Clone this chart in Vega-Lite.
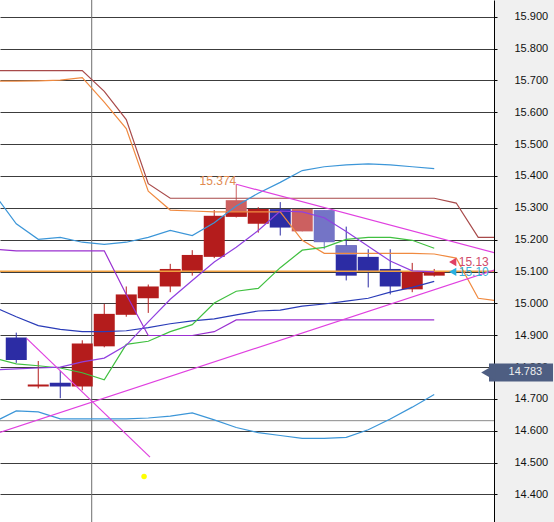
{
  "$schema": "https://vega.github.io/schema/vega-lite/v6.json",
  "width": 494,
  "height": 522,
  "autosize": {"type": "none"},
  "padding": {"left": 0, "top": 0, "right": 60, "bottom": 0},
  "background": "#f0f0f0",
  "view": {"fill": "white", "stroke": null},
  "config": {"font": "Liberation Sans"},
  "resolve": {"scale": {"color": "independent"}},
  "datasets": {
    "candles": [
      {"i":1,"o":14.893,"h":14.908,"l":14.813,"c":14.822,"k":"down"},
      {"i":2,"o":14.739,"h":14.819,"l":14.733,"c":14.745,"k":"up"},
      {"i":3,"o":14.751,"h":14.788,"l":14.702,"c":14.739,"k":"down"},
      {"i":4,"o":14.739,"h":14.884,"l":14.727,"c":14.874,"k":"up"},
      {"i":5,"o":14.865,"h":14.998,"l":14.862,"c":14.967,"k":"up"},
      {"i":6,"o":14.964,"h":15.053,"l":14.958,"c":15.028,"k":"up"},
      {"i":7,"o":15.016,"h":15.059,"l":14.970,"c":15.053,"k":"up"},
      {"i":8,"o":15.053,"h":15.124,"l":15.035,"c":15.108,"k":"up"},
      {"i":9,"o":15.102,"h":15.167,"l":15.087,"c":15.152,"k":"up"},
      {"i":10,"o":15.146,"h":15.293,"l":15.142,"c":15.275,"k":"up"},
      {"i":11,"o":15.272,"h":15.374,"l":15.269,"c":15.324,"k":"up_l"},
      {"i":12,"o":15.250,"h":15.302,"l":15.222,"c":15.296,"k":"up"},
      {"i":13,"o":15.296,"h":15.318,"l":15.213,"c":15.238,"k":"down"},
      {"i":14,"o":15.226,"h":15.296,"l":15.226,"c":15.296,"k":"up_l"},
      {"i":15,"o":15.293,"h":15.293,"l":15.170,"c":15.192,"k":"down_l"},
      {"i":16,"o":15.182,"h":15.241,"l":15.072,"c":15.087,"k":"down"},
      {"i":17,"o":15.146,"h":15.170,"l":15.050,"c":15.102,"k":"down"},
      {"i":18,"o":15.108,"h":15.170,"l":15.028,"c":15.053,"k":"down"},
      {"i":19,"o":15.044,"h":15.127,"l":15.035,"c":15.099,"k":"up"},
      {"i":20,"o":15.087,"h":15.108,"l":15.084,"c":15.099,"k":"up"}
    ],
    "parts": [
      {"i":11,"o":15.272,"c":15.287,"k":"up"},
      {"i":16,"o":15.182,"c":15.152,"k":"down_l"}
    ],
    "lines": [
      {"s":"brown","i":0,"v":15.731},{"s":"brown","i":1,"v":15.731},{"s":"brown","i":2,"v":15.731},{"s":"brown","i":3,"v":15.731},{"s":"brown","i":4,"v":15.731},{"s":"brown","i":5,"v":15.666},{"s":"brown","i":6,"v":15.577},{"s":"brown","i":7,"v":15.376},{"s":"brown","i":8,"v":15.330},{"s":"brown","i":9,"v":15.330},{"s":"brown","i":10,"v":15.330},{"s":"brown","i":11,"v":15.330},{"s":"brown","i":12,"v":15.330},{"s":"brown","i":13,"v":15.330},{"s":"brown","i":14,"v":15.330},{"s":"brown","i":15,"v":15.330},{"s":"brown","i":16,"v":15.330},{"s":"brown","i":17,"v":15.330},{"s":"brown","i":18,"v":15.330},{"s":"brown","i":19,"v":15.330},{"s":"brown","i":20,"v":15.330},{"s":"brown","i":21,"v":15.315},{"s":"brown","i":22,"v":15.207},{"s":"brown","i":23,"v":15.207},
      {"s":"orange","i":0,"v":15.698},{"s":"orange","i":1,"v":15.698},{"s":"orange","i":2,"v":15.699},{"s":"orange","i":3,"v":15.701},{"s":"orange","i":4,"v":15.709},{"s":"orange","i":5,"v":15.632},{"s":"orange","i":6,"v":15.549},{"s":"orange","i":7,"v":15.352},{"s":"orange","i":8,"v":15.293},{"s":"orange","i":9,"v":15.290},{"s":"orange","i":10,"v":15.287},{"s":"orange","i":11,"v":15.287},{"s":"orange","i":12,"v":15.287},{"s":"orange","i":13,"v":15.287},{"s":"orange","i":14,"v":15.198},{"s":"orange","i":15,"v":15.157},{"s":"orange","i":16,"v":15.157},{"s":"orange","i":17,"v":15.157},{"s":"orange","i":18,"v":15.157},{"s":"orange","i":19,"v":15.157},{"s":"orange","i":20,"v":15.155},{"s":"orange","i":21,"v":15.142},{"s":"orange","i":22,"v":15.016},{"s":"orange","i":23,"v":15.007},
      {"s":"bbU","i":0,"v":15.343},{"s":"bbU","i":1,"v":15.250},{"s":"bbU","i":2,"v":15.201},{"s":"bbU","i":3,"v":15.207},{"s":"bbU","i":4,"v":15.192},{"s":"bbU","i":5,"v":15.185},{"s":"bbU","i":6,"v":15.192},{"s":"bbU","i":7,"v":15.207},{"s":"bbU","i":8,"v":15.229},{"s":"bbU","i":9,"v":15.213},{"s":"bbU","i":10,"v":15.253},{"s":"bbU","i":11,"v":15.306},{"s":"bbU","i":12,"v":15.346},{"s":"bbU","i":13,"v":15.380},{"s":"bbU","i":14,"v":15.417},{"s":"bbU","i":15,"v":15.429},{"s":"bbU","i":16,"v":15.435},{"s":"bbU","i":17,"v":15.438},{"s":"bbU","i":18,"v":15.435},{"s":"bbU","i":19,"v":15.429},{"s":"bbU","i":20,"v":15.423},
      {"s":"bbL","i":0,"v":14.628},{"s":"bbL","i":1,"v":14.662},{"s":"bbL","i":2,"v":14.659},{"s":"bbL","i":3,"v":14.637},{"s":"bbL","i":4,"v":14.637},{"s":"bbL","i":5,"v":14.637},{"s":"bbL","i":6,"v":14.637},{"s":"bbL","i":7,"v":14.640},{"s":"bbL","i":8,"v":14.646},{"s":"bbL","i":9,"v":14.656},{"s":"bbL","i":10,"v":14.634},{"s":"bbL","i":11,"v":14.610},{"s":"bbL","i":12,"v":14.594},{"s":"bbL","i":13,"v":14.585},{"s":"bbL","i":14,"v":14.576},{"s":"bbL","i":15,"v":14.576},{"s":"bbL","i":16,"v":14.579},{"s":"bbL","i":17,"v":14.603},{"s":"bbL","i":18,"v":14.637},{"s":"bbL","i":19,"v":14.674},{"s":"bbL","i":20,"v":14.714},
      {"s":"navy","i":0,"v":14.988},{"s":"navy","i":1,"v":14.958},{"s":"navy","i":2,"v":14.930},{"s":"navy","i":3,"v":14.918},{"s":"navy","i":4,"v":14.911},{"s":"navy","i":5,"v":14.911},{"s":"navy","i":6,"v":14.914},{"s":"navy","i":7,"v":14.924},{"s":"navy","i":8,"v":14.936},{"s":"navy","i":9,"v":14.945},{"s":"navy","i":10,"v":14.951},{"s":"navy","i":11,"v":14.964},{"s":"navy","i":12,"v":14.976},{"s":"navy","i":13,"v":14.979},{"s":"navy","i":14,"v":14.991},{"s":"navy","i":15,"v":14.998},{"s":"navy","i":16,"v":15.007},{"s":"navy","i":17,"v":15.016},{"s":"navy","i":18,"v":15.035},{"s":"navy","i":19,"v":15.050},{"s":"navy","i":20,"v":15.069},
      {"s":"green","i":0,"v":14.828},{"s":"green","i":1,"v":14.810},{"s":"green","i":2,"v":14.804},{"s":"green","i":3,"v":14.797},{"s":"green","i":4,"v":14.782},{"s":"green","i":5,"v":14.760},{"s":"green","i":6,"v":14.871},{"s":"green","i":7,"v":14.881},{"s":"green","i":8,"v":14.911},{"s":"green","i":9,"v":14.933},{"s":"green","i":10,"v":15.001},{"s":"green","i":11,"v":15.038},{"s":"green","i":12,"v":15.047},{"s":"green","i":13,"v":15.112},{"s":"green","i":14,"v":15.167},{"s":"green","i":15,"v":15.176},{"s":"green","i":16,"v":15.201},{"s":"green","i":17,"v":15.207},{"s":"green","i":18,"v":15.207},{"s":"green","i":19,"v":15.198},{"s":"green","i":20,"v":15.173},
      {"s":"pur1","i":0,"v":15.170},{"s":"pur1","i":1,"v":15.165},{"s":"pur1","i":2,"v":15.165},{"s":"pur1","i":3,"v":15.165},{"s":"pur1","i":4,"v":15.165},{"s":"pur1","i":5,"v":15.165},{"s":"pur1","i":6,"v":15.028},{"s":"pur1","i":7,"v":14.899},{"s":"pur1","i":8,"v":14.899},{"s":"pur1","i":9,"v":14.899},{"s":"pur1","i":10,"v":14.911},{"s":"pur1","i":11,"v":14.948},{"s":"pur1","i":12,"v":14.948},{"s":"pur1","i":13,"v":14.948},{"s":"pur1","i":14,"v":14.948},{"s":"pur1","i":15,"v":14.948},{"s":"pur1","i":16,"v":14.948},{"s":"pur1","i":17,"v":14.948},{"s":"pur1","i":18,"v":14.948},{"s":"pur1","i":19,"v":14.948},{"s":"pur1","i":20,"v":14.948},
      {"s":"pur2","i":0,"v":14.791},{"s":"pur2","i":1,"v":14.794},{"s":"pur2","i":2,"v":14.797},{"s":"pur2","i":3,"v":14.800},{"s":"pur2","i":4,"v":14.816},{"s":"pur2","i":5,"v":14.828},{"s":"pur2","i":6,"v":14.868},{"s":"pur2","i":7,"v":14.942},{"s":"pur2","i":8,"v":15.013},{"s":"pur2","i":9,"v":15.072},{"s":"pur2","i":10,"v":15.130},{"s":"pur2","i":11,"v":15.176},{"s":"pur2","i":12,"v":15.229},{"s":"pur2","i":13,"v":15.290},{"s":"pur2","i":14,"v":15.287},{"s":"pur2","i":15,"v":15.269},{"s":"pur2","i":16,"v":15.226},{"s":"pur2","i":17,"v":15.179},{"s":"pur2","i":18,"v":15.133},{"s":"pur2","i":19,"v":15.102},{"s":"pur2","i":20,"v":15.099}
    ],
    "trends": [
      {"s":"t1","i":11,"v":15.374},{"s":"t1","i":23,"v":15.154},
      {"s":"t2","i":0,"v":14.589},{"s":"t2","i":23,"v":15.111},
      {"s":"t3","i":1.47,"v":14.890},{"s":"t3","i":7.08,"v":14.517}
    ],
    "dot": [{"i":6.81,"v":14.456}],
    "hi": [{"i":11,"v":15.374,"t":"15.374"}],
    "markers": [
      {"i":20.84,"v":15.130,"k":"a","t":"15.13"},
      {"i":20.84,"v":15.099,"k":"b","t":"15.10"}
    ],
    "price": [{"i":22.45,"x0":22.49,"x1":25.4,"xt":23.38,"p":14.783,"t":"14.783"}]
  },
  "layer": [
    {
      "data": {"values": [{"g":14.6315}]},
      "mark": {"type": "rule", "color": "#8a8a8a", "strokeWidth": 1},
      "encoding": {
        "y": {"field": "g", "type": "quantitative", "scale": {"domain": [14.329, 15.937], "nice": false, "zero": false},
          "axis": {"orient": "right", "values": [14.4,14.5,14.6,14.7,14.8,14.9,15.0,15.1,15.2,15.3,15.4,15.5,15.6,15.7,15.8,15.9], "format": ".3f", "grid": true, "gridColor": "#3c3c3c", "gridWidth": 1, "gridOpacity": 1, "domain": true, "domainColor": "#000000", "domainWidth": 1, "ticks": true, "tickColor": "#000000", "tickSize": 3, "labelPadding": 17, "labelFont": "Liberation Sans", "labelFontSize": 11, "labelColor": "#111111", "labelFlush": false, "labelOverlap": false, "title": null}}
      }
    },
    {
      "data": {"values": [{"i":4.43}]},
      "mark": {"type": "rule", "color": "#6e6e6e", "strokeWidth": 1},
      "encoding": {
        "x": {"field": "i", "type": "quantitative", "scale": {"domain": [0.488, 22.49], "nice": false, "zero": false}, "axis": null}
      }
    },
    {
      "data": {"name": "candles"},
      "mark": {"type": "rule", "strokeWidth": 1, "clip": true},
      "encoding": {
        "x": {"field": "i", "type": "quantitative", "scale": {"domain": [0.488, 22.49], "nice": false, "zero": false}, "axis": null},
        "y": {"field": "l", "type": "quantitative", "scale": {"domain": [14.329, 15.937], "nice": false, "zero": false},
          "axis": {"orient": "right", "values": [14.4,14.5,14.6,14.7,14.8,14.9,15.0,15.1,15.2,15.3,15.4,15.5,15.6,15.7,15.8,15.9], "format": ".3f", "grid": true, "gridColor": "#3c3c3c", "gridWidth": 1, "gridOpacity": 1, "domain": true, "domainColor": "#000000", "domainWidth": 1, "ticks": true, "tickColor": "#000000", "tickSize": 3, "labelPadding": 17, "labelFont": "Liberation Sans", "labelFontSize": 11, "labelColor": "#111111", "labelFlush": false, "labelOverlap": false, "title": null}},
        "y2": {"field": "h"},
        "color": {"field": "k", "type": "nominal", "scale": {"domain": ["up","down","up_l","down_l"], "range": ["#b41c1c","#2c2ca4","#cc6060","#7474c6"]}, "legend": null}
      }
    },
    {
      "data": {"name": "candles"},
      "mark": {"type": "bar", "size": 21, "clip": true},
      "encoding": {
        "x": {"field": "i", "type": "quantitative", "scale": {"domain": [0.488, 22.49], "nice": false, "zero": false}, "axis": null},
        "y": {"field": "o", "type": "quantitative", "scale": {"domain": [14.329, 15.937], "nice": false, "zero": false},
          "axis": {"orient": "right", "values": [14.4,14.5,14.6,14.7,14.8,14.9,15.0,15.1,15.2,15.3,15.4,15.5,15.6,15.7,15.8,15.9], "format": ".3f", "grid": true, "gridColor": "#3c3c3c", "gridWidth": 1, "gridOpacity": 1, "domain": true, "domainColor": "#000000", "domainWidth": 1, "ticks": true, "tickColor": "#000000", "tickSize": 3, "labelPadding": 17, "labelFont": "Liberation Sans", "labelFontSize": 11, "labelColor": "#111111", "labelFlush": false, "labelOverlap": false, "title": null}},
        "y2": {"field": "c"},
        "color": {"field": "k", "type": "nominal", "scale": {"domain": ["up","down","up_l","down_l"], "range": ["#b41c1c","#2c2ca4","#cc6060","#7474c6"]}, "legend": null}
      }
    },
    {
      "data": {"name": "parts"},
      "mark": {"type": "bar", "size": 21, "clip": true},
      "encoding": {
        "x": {"field": "i", "type": "quantitative", "scale": {"domain": [0.488, 22.49], "nice": false, "zero": false}, "axis": null},
        "y": {"field": "o", "type": "quantitative", "scale": {"domain": [14.329, 15.937], "nice": false, "zero": false},
          "axis": {"orient": "right", "values": [14.4,14.5,14.6,14.7,14.8,14.9,15.0,15.1,15.2,15.3,15.4,15.5,15.6,15.7,15.8,15.9], "format": ".3f", "grid": true, "gridColor": "#3c3c3c", "gridWidth": 1, "gridOpacity": 1, "domain": true, "domainColor": "#000000", "domainWidth": 1, "ticks": true, "tickColor": "#000000", "tickSize": 3, "labelPadding": 17, "labelFont": "Liberation Sans", "labelFontSize": 11, "labelColor": "#111111", "labelFlush": false, "labelOverlap": false, "title": null}},
        "y2": {"field": "c"},
        "color": {"field": "k", "type": "nominal", "scale": {"domain": ["up","down","up_l","down_l"], "range": ["#b41c1c","#2c2ca4","#cc6060","#7474c6"]}, "legend": null}
      }
    },
    {
      "data": {"values": [{"g":15.101}]},
      "mark": {"type": "rule", "color": "#f0a040", "strokeWidth": 1.5},
      "encoding": {
        "y": {"field": "g", "type": "quantitative", "scale": {"domain": [14.329, 15.937], "nice": false, "zero": false},
          "axis": {"orient": "right", "values": [14.4,14.5,14.6,14.7,14.8,14.9,15.0,15.1,15.2,15.3,15.4,15.5,15.6,15.7,15.8,15.9], "format": ".3f", "grid": true, "gridColor": "#3c3c3c", "gridWidth": 1, "gridOpacity": 1, "domain": true, "domainColor": "#000000", "domainWidth": 1, "ticks": true, "tickColor": "#000000", "tickSize": 3, "labelPadding": 17, "labelFont": "Liberation Sans", "labelFontSize": 11, "labelColor": "#111111", "labelFlush": false, "labelOverlap": false, "title": null}}
      }
    },
    {
      "data": {"name": "lines"},
      "mark": {"type": "line", "strokeWidth": 1.2, "clip": true},
      "encoding": {
        "x": {"field": "i", "type": "quantitative", "scale": {"domain": [0.488, 22.49], "nice": false, "zero": false}, "axis": null},
        "y": {"field": "v", "type": "quantitative", "scale": {"domain": [14.329, 15.937], "nice": false, "zero": false},
          "axis": {"orient": "right", "values": [14.4,14.5,14.6,14.7,14.8,14.9,15.0,15.1,15.2,15.3,15.4,15.5,15.6,15.7,15.8,15.9], "format": ".3f", "grid": true, "gridColor": "#3c3c3c", "gridWidth": 1, "gridOpacity": 1, "domain": true, "domainColor": "#000000", "domainWidth": 1, "ticks": true, "tickColor": "#000000", "tickSize": 3, "labelPadding": 17, "labelFont": "Liberation Sans", "labelFontSize": 11, "labelColor": "#111111", "labelFlush": false, "labelOverlap": false, "title": null}},
        "color": {"field": "s", "type": "nominal", "scale": {"domain": ["brown","orange","bbU","bbL","navy","green","pur1","pur2"], "range": ["#a84a4a","#f08a40","#3c96d8","#3c96d8","#2a3cb8","#40c040","#9a30d0","#9040e0"]}, "legend": null}
      }
    },
    {
      "data": {"name": "trends"},
      "mark": {"type": "line", "strokeWidth": 1.2, "clip": true, "color": "#e040e0"},
      "encoding": {
        "x": {"field": "i", "type": "quantitative", "scale": {"domain": [0.488, 22.49], "nice": false, "zero": false}, "axis": null},
        "y": {"field": "v", "type": "quantitative", "scale": {"domain": [14.329, 15.937], "nice": false, "zero": false},
          "axis": {"orient": "right", "values": [14.4,14.5,14.6,14.7,14.8,14.9,15.0,15.1,15.2,15.3,15.4,15.5,15.6,15.7,15.8,15.9], "format": ".3f", "grid": true, "gridColor": "#3c3c3c", "gridWidth": 1, "gridOpacity": 1, "domain": true, "domainColor": "#000000", "domainWidth": 1, "ticks": true, "tickColor": "#000000", "tickSize": 3, "labelPadding": 17, "labelFont": "Liberation Sans", "labelFontSize": 11, "labelColor": "#111111", "labelFlush": false, "labelOverlap": false, "title": null}},
        "detail": {"field": "s", "type": "nominal"}
      }
    },
    {
      "data": {"name": "dot"},
      "mark": {"type": "point", "filled": true, "color": "#ffff00", "size": 30, "opacity": 1},
      "encoding": {
        "x": {"field": "i", "type": "quantitative", "scale": {"domain": [0.488, 22.49], "nice": false, "zero": false}, "axis": null},
        "y": {"field": "v", "type": "quantitative", "scale": {"domain": [14.329, 15.937], "nice": false, "zero": false},
          "axis": {"orient": "right", "values": [14.4,14.5,14.6,14.7,14.8,14.9,15.0,15.1,15.2,15.3,15.4,15.5,15.6,15.7,15.8,15.9], "format": ".3f", "grid": true, "gridColor": "#3c3c3c", "gridWidth": 1, "gridOpacity": 1, "domain": true, "domainColor": "#000000", "domainWidth": 1, "ticks": true, "tickColor": "#000000", "tickSize": 3, "labelPadding": 17, "labelFont": "Liberation Sans", "labelFontSize": 11, "labelColor": "#111111", "labelFlush": false, "labelOverlap": false, "title": null}}
      }
    },
    {
      "data": {"name": "hi"},
      "mark": {"type": "text", "align": "right", "baseline": "alphabetic", "dy": 1, "fontSize": 12, "color": "#e08a50", "font": "Liberation Sans"},
      "encoding": {
        "x": {"field": "i", "type": "quantitative", "scale": {"domain": [0.488, 22.49], "nice": false, "zero": false}, "axis": null},
        "y": {"field": "v", "type": "quantitative", "scale": {"domain": [14.329, 15.937], "nice": false, "zero": false},
          "axis": {"orient": "right", "values": [14.4,14.5,14.6,14.7,14.8,14.9,15.0,15.1,15.2,15.3,15.4,15.5,15.6,15.7,15.8,15.9], "format": ".3f", "grid": true, "gridColor": "#3c3c3c", "gridWidth": 1, "gridOpacity": 1, "domain": true, "domainColor": "#000000", "domainWidth": 1, "ticks": true, "tickColor": "#000000", "tickSize": 3, "labelPadding": 17, "labelFont": "Liberation Sans", "labelFontSize": 11, "labelColor": "#111111", "labelFlush": false, "labelOverlap": false, "title": null}},
        "text": {"field": "t"}
      }
    },
    {
      "data": {"name": "markers"},
      "mark": {"type": "point", "shape": "triangle-left", "filled": true, "size": 70, "opacity": 1},
      "encoding": {
        "x": {"field": "i", "type": "quantitative", "scale": {"domain": [0.488, 22.49], "nice": false, "zero": false}, "axis": null},
        "y": {"field": "v", "type": "quantitative", "scale": {"domain": [14.329, 15.937], "nice": false, "zero": false},
          "axis": {"orient": "right", "values": [14.4,14.5,14.6,14.7,14.8,14.9,15.0,15.1,15.2,15.3,15.4,15.5,15.6,15.7,15.8,15.9], "format": ".3f", "grid": true, "gridColor": "#3c3c3c", "gridWidth": 1, "gridOpacity": 1, "domain": true, "domainColor": "#000000", "domainWidth": 1, "ticks": true, "tickColor": "#000000", "tickSize": 3, "labelPadding": 17, "labelFont": "Liberation Sans", "labelFontSize": 11, "labelColor": "#111111", "labelFlush": false, "labelOverlap": false, "title": null}},
        "color": {"field": "k", "type": "nominal", "scale": {"domain": ["a","b"], "range": ["#e04064","#28b0e0"]}, "legend": null}
      }
    },
    {
      "data": {"name": "markers"},
      "mark": {"type": "text", "align": "left", "baseline": "middle", "dx": 6, "fontSize": 12, "font": "Liberation Sans", "clip": true},
      "encoding": {
        "x": {"field": "i", "type": "quantitative", "scale": {"domain": [0.488, 22.49], "nice": false, "zero": false}, "axis": null},
        "y": {"field": "v", "type": "quantitative", "scale": {"domain": [14.329, 15.937], "nice": false, "zero": false},
          "axis": {"orient": "right", "values": [14.4,14.5,14.6,14.7,14.8,14.9,15.0,15.1,15.2,15.3,15.4,15.5,15.6,15.7,15.8,15.9], "format": ".3f", "grid": true, "gridColor": "#3c3c3c", "gridWidth": 1, "gridOpacity": 1, "domain": true, "domainColor": "#000000", "domainWidth": 1, "ticks": true, "tickColor": "#000000", "tickSize": 3, "labelPadding": 17, "labelFont": "Liberation Sans", "labelFontSize": 11, "labelColor": "#111111", "labelFlush": false, "labelOverlap": false, "title": null}},
        "text": {"field": "t"},
        "color": {"field": "k", "type": "nominal", "scale": {"domain": ["a","b"], "range": ["#d04a6a","#38b0d8"]}, "legend": null}
      }
    },
    {
      "data": {"name": "price"},
      "mark": {"type": "bar", "size": 18, "color": "#4e5e82", "clip": false, "orient": "horizontal"},
      "encoding": {
        "x": {"field": "x0", "type": "quantitative", "scale": {"domain": [0.488, 22.49], "nice": false, "zero": false}, "axis": null},
        "x2": {"field": "x1"},
        "y": {"field": "p", "type": "quantitative", "scale": {"domain": [14.329, 15.937], "nice": false, "zero": false},
          "axis": {"orient": "right", "values": [14.4,14.5,14.6,14.7,14.8,14.9,15.0,15.1,15.2,15.3,15.4,15.5,15.6,15.7,15.8,15.9], "format": ".3f", "grid": true, "gridColor": "#3c3c3c", "gridWidth": 1, "gridOpacity": 1, "domain": true, "domainColor": "#000000", "domainWidth": 1, "ticks": true, "tickColor": "#000000", "tickSize": 3, "labelPadding": 17, "labelFont": "Liberation Sans", "labelFontSize": 11, "labelColor": "#111111", "labelFlush": false, "labelOverlap": false, "title": null}}
      }
    },
    {
      "data": {"name": "price"},
      "mark": {"type": "point", "shape": "triangle-left", "filled": true, "size": 256, "color": "#4e5e82", "opacity": 1, "clip": false},
      "encoding": {
        "x": {"field": "i", "type": "quantitative", "scale": {"domain": [0.488, 22.49], "nice": false, "zero": false}, "axis": null},
        "y": {"field": "p", "type": "quantitative", "scale": {"domain": [14.329, 15.937], "nice": false, "zero": false},
          "axis": {"orient": "right", "values": [14.4,14.5,14.6,14.7,14.8,14.9,15.0,15.1,15.2,15.3,15.4,15.5,15.6,15.7,15.8,15.9], "format": ".3f", "grid": true, "gridColor": "#3c3c3c", "gridWidth": 1, "gridOpacity": 1, "domain": true, "domainColor": "#000000", "domainWidth": 1, "ticks": true, "tickColor": "#000000", "tickSize": 3, "labelPadding": 17, "labelFont": "Liberation Sans", "labelFontSize": 11, "labelColor": "#111111", "labelFlush": false, "labelOverlap": false, "title": null}}
      }
    },
    {
      "data": {"name": "price"},
      "mark": {"type": "text", "align": "left", "baseline": "middle", "fontSize": 11, "font": "Liberation Sans", "color": "#eeeeee", "clip": false},
      "encoding": {
        "x": {"field": "xt", "type": "quantitative", "scale": {"domain": [0.488, 22.49], "nice": false, "zero": false}, "axis": null},
        "y": {"field": "p", "type": "quantitative", "scale": {"domain": [14.329, 15.937], "nice": false, "zero": false},
          "axis": {"orient": "right", "values": [14.4,14.5,14.6,14.7,14.8,14.9,15.0,15.1,15.2,15.3,15.4,15.5,15.6,15.7,15.8,15.9], "format": ".3f", "grid": true, "gridColor": "#3c3c3c", "gridWidth": 1, "gridOpacity": 1, "domain": true, "domainColor": "#000000", "domainWidth": 1, "ticks": true, "tickColor": "#000000", "tickSize": 3, "labelPadding": 17, "labelFont": "Liberation Sans", "labelFontSize": 11, "labelColor": "#111111", "labelFlush": false, "labelOverlap": false, "title": null}},
        "text": {"field": "t"}
      }
    }
  ]
}
